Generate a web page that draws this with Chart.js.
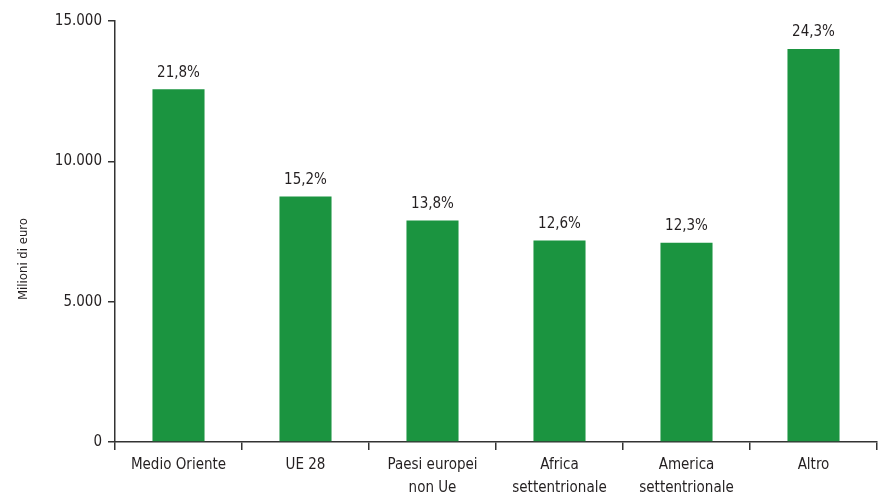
<!DOCTYPE html>
<html>
<head>
<meta charset="utf-8">
<script src="https://cdn.jsdelivr.net/npm/chart.js@4"></script>
<style>
  html, body { margin: 0; padding: 0; background: #fff; }
  #wrap { width: 880px; height: 504px; }
</style>
</head>
<body>
<div id="wrap"><canvas id="myChart" width="880" height="504"></canvas></div>
<script>
// dati
var categorie = ['Medio Oriente', 'UE 28', ['Paesi europei', 'non Ue'], ['Africa', 'settentrionale'], ['America', 'settentrionale'], 'Altro'];
var valori = [12570, 8750, 7890, 7180, 7100, 14000];
var percentuali = ['21,8%', '15,2%', '13,8%', '12,6%', '12,3%', '24,3%'];
var tickY = [0, 5000, 10000, 15000];

var FONT = '"Liberation Sans Narrow", "DejaVu Sans Condensed", sans-serif';
var INK = '#231f20';

// etichette sopra le barre + titolo asse
var etichette = {
    id: 'etichette',
    afterDatasetsDraw: function (chart) {
        var ctx = chart.ctx;
        var meta = chart.getDatasetMeta(0);
        ctx.save();
        ctx.fillStyle = INK;
        ctx.font = '15px ' + FONT;
        ctx.textAlign = 'center';
        ctx.textBaseline = 'bottom';
        meta.data.forEach(function (bar, i) {
            ctx.fillText(percentuali[i], bar.x, bar.y - 9);
        });
        ctx.translate(24, 259);
        ctx.rotate(-Math.PI / 2);
        ctx.font = '13px ' + FONT;
        ctx.textBaseline = 'middle';
        ctx.fillText('Milioni di euro', 0, 0);
        ctx.restore();
    }
};

function formatta(v) {
    return v === 0 ? '0' : String(v).replace(/\B(?=(\d{3})+(?!\d))/g, '.');
}

var ctx = document.getElementById('myChart').getContext('2d');
var chart = new Chart(ctx, {
    type: 'bar',
    data: {
        labels: categorie,
        datasets: [{
            data: valori,
            backgroundColor: '#1b9440',
            borderWidth: 0,
            categoryPercentage: 1,
            barPercentage: 0.41
        }]
    },
    options: {
        responsive: false,
        animation: false,
        layout: { padding: { top: 21, right: 3, left: 0, bottom: 0 } },
        plugins: {
            legend: { display: false },
            tooltip: { enabled: false }
        },
        scales: {
            x: {
                offset: true,
                grid: { offset: true, drawOnChartArea: false, drawTicks: true, tickLength: 8, color: '#333', lineWidth: 1.5 },
                border: { display: true, color: '#333', width: 1.5 },
                ticks: {
                    color: INK,
                    font: { family: FONT, size: 15, lineHeight: 1.55 },
                    padding: 3,
                    maxRotation: 0,
                    autoSkip: false
                },
                afterFit: function (scale) { scale.height = 62; }
            },
            y: {
                min: 0,
                max: 15000,
                afterBuildTicks: function (scale) {
                    scale.ticks = tickY.map(function (v) { return { value: v }; });
                },
                grid: { drawOnChartArea: false, drawTicks: true, tickLength: 7, color: '#333', lineWidth: 1.5 },
                border: { display: true, color: '#333', width: 1.5 },
                ticks: {
                    color: INK,
                    font: { family: FONT, size: 15 },
                    padding: 6,
                    callback: function (v) { return formatta(v); }
                },
                afterFit: function (scale) { scale.width = 115; }
            }
        }
    },
    plugins: [etichette]
});
</script>
</body>
</html>
